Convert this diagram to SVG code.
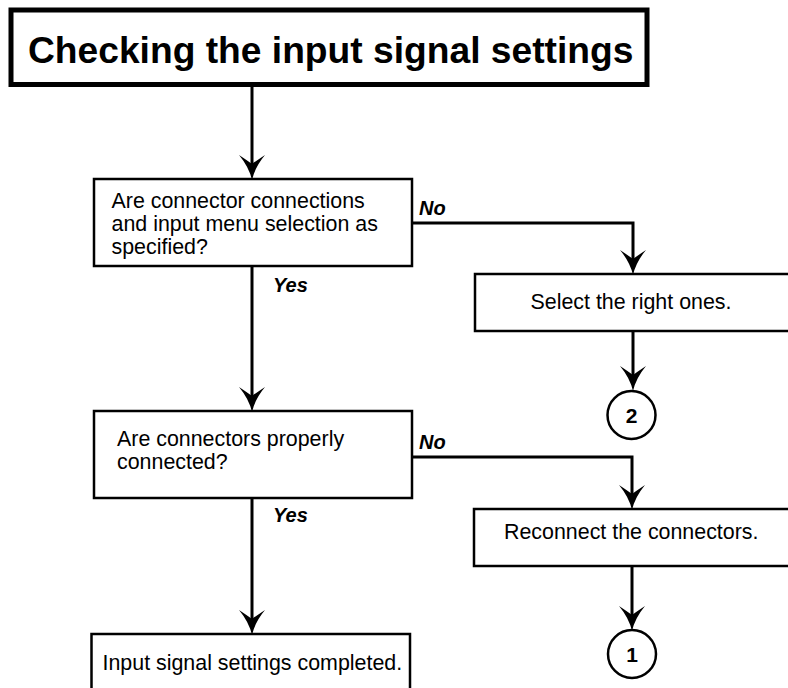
<svg xmlns="http://www.w3.org/2000/svg" width="788" height="688" viewBox="0 0 788 688">
<style>
.box{fill:#fff;stroke:#000;stroke-width:2.5}
.t{font-family:"Liberation Sans",Arial,sans-serif;font-size:21.4px;fill:#000}
.lbl{font-family:"Liberation Sans",Arial,sans-serif;font-size:20px;font-weight:bold;font-style:italic;fill:#000}
.num{font-family:"Liberation Sans",Arial,sans-serif;font-size:21px;font-weight:bold;fill:#000;text-anchor:middle}
.c{fill:none;stroke:#000;stroke-width:3;marker-end:url(#ah)}
</style>
<defs>
<marker id="ah" markerUnits="userSpaceOnUse" viewBox="-26 -14 27 28" refX="-12" refY="0" markerWidth="27" markerHeight="28" orient="auto">
<path d="M0,0 Q-13,-3 -25,-13 Q-19,-4 -16,0 Q-19,4 -25,13 Q-13,3 0,0Z" fill="#000"/>
</marker>
</defs>
<rect width="788" height="688" fill="#fff"/>
<g id="connectors">
<path class="c" d="M252,86 V168"/>
<path class="c" d="M252,266 V400"/>
<path class="c" d="M412,223 H633 V263"/>
<path class="c" d="M633,331 V379"/>
<path class="c" d="M252,498 V623"/>
<path class="c" d="M412,457 H632 V498"/>
<path class="c" d="M632,566 V619"/>
</g>
<g id="title">
<rect x="11" y="10" width="636" height="74.5" fill="#fff" stroke="#000" stroke-width="5"/>
<text x="28" y="63" font-family="Liberation Sans,Arial,sans-serif" font-size="37.2" font-weight="bold" fill="#000">Checking the input signal settings</text>
</g>
<g id="q1">
<rect class="box" x="94" y="179" width="318" height="87"/>
<text class="t" x="111.5" y="208">Are connector connections</text>
<text class="t" x="111.5" y="231">and input menu selection as</text>
<text class="t" x="111.5" y="254">specified?</text>
</g>
<g id="labels">
<text class="lbl" x="273" y="291.5">Yes</text>
<text class="lbl" x="419" y="215">No</text>
<text class="lbl" x="273" y="521.5">Yes</text>
<text class="lbl" x="419" y="449">No</text>
</g>
<g id="select">
<rect class="box" x="475" y="274" width="320" height="57"/>
<text class="t" x="530.5" y="308.5">Select the right ones.</text>
</g>
<g id="c2">
<circle cx="631.5" cy="415" r="24" fill="#fff" stroke="#000" stroke-width="2.5"/>
<text class="num" x="631.5" y="423">2</text>
</g>
<g id="q2">
<rect class="box" x="94" y="411" width="318" height="87"/>
<text class="t" x="117" y="446">Are connectors properly</text>
<text class="t" x="117" y="469">connected?</text>
</g>
<g id="reconnect">
<rect class="box" x="474" y="509" width="320" height="57"/>
<text class="t" x="504" y="538.5">Reconnect the connectors.</text>
</g>
<g id="c1">
<circle cx="632" cy="654" r="24" fill="#fff" stroke="#000" stroke-width="2.5"/>
<text class="num" x="632" y="662">1</text>
</g>
<g id="done">
<rect class="box" x="91.5" y="634" width="318.5" height="60"/>
<text class="t" x="102.5" y="670">Input signal settings completed.</text>
</g>
</svg>
